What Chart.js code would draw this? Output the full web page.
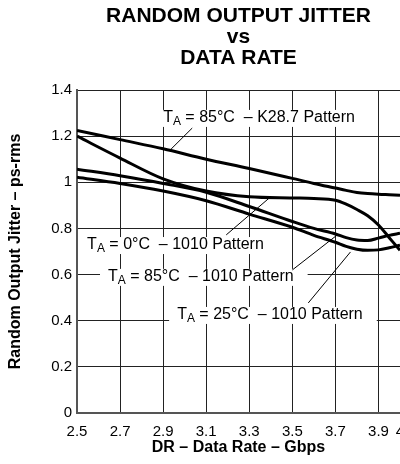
<!DOCTYPE html>
<html><head><meta charset="utf-8">
<script src="https://cdn.jsdelivr.net/npm/chart.js@4.4.1/dist/chart.umd.min.js"></script>
<style>
html,body{margin:0;padding:0;background:#fff;overflow:hidden;}
canvas{display:block;}
</style></head><body>
<canvas id="c" width="400" height="464" style="width:400px;height:464px"></canvas>
<script>
const titleLines = ['RANDOM OUTPUT JITTER', 'vs', 'DATA RATE'];
const xTitle = 'DR – Data Rate – Gbps';
const yTitle = 'Random Output Jitter – ps-rms';
const xTicks = [2.5, 2.7, 2.9, 3.1, 3.3, 3.5, 3.7, 3.9, 4.0];
const yTicks = [0, 0.2, 0.4, 0.6, 0.8, 1.0, 1.2, 1.4];

const dataRate      = [2.5, 2.7, 2.9, 3.1, 3.3, 3.5, 3.6, 3.7, 3.75, 3.8, 3.85, 3.9, 3.95, 4.0];
const jitter85K287  = [1.225, 1.185, 1.145, 1.100, 1.060, 1.017, 0.995, 0.975, 0.965, 0.956, 0.951, 0.948, 0.946, 0.944];
const jitter0C1010  = [1.200, 1.105, 1.015, 0.962, 0.937, 0.932, 0.930, 0.922, 0.905, 0.882, 0.855, 0.815, 0.760, 0.705];
const jitter85C1010 = [1.057, 1.028, 0.995, 0.957, 0.895, 0.830, 0.800, 0.776, 0.760, 0.750, 0.748, 0.758, 0.770, 0.779];
const jitter25C1010 = [1.022, 0.995, 0.962, 0.920, 0.862, 0.805, 0.770, 0.740, 0.722, 0.710, 0.705, 0.707, 0.716, 0.727];
const seriesNames = ['TA = 85°C – K28.7 Pattern', 'TA = 0°C – 1010 Pattern', 'TA = 85°C – 1010 Pattern', 'TA = 25°C – 1010 Pattern'];

const noteTemps    = ['85°C', '0°C', '85°C', '25°C'];
const notePatterns = ['K28.7', '1010', '1010', '1010'];
const noteAnchors  = [[2.90, 1.279], [2.547, 0.728], [2.644, 0.590], [2.965, 0.425]];
const leaderStart  = [[3.035, 1.235], [3.193, 0.772], [3.500, 0.620], [3.574, 0.477]];
const leaderEnd    = [[2.937, 1.144], [3.398, 0.936], [3.709, 0.772], [3.770, 0.698]];

const FAM = '"Liberation Sans", Arial, Helvetica, sans-serif';
const series = [jitter85K287, jitter0C1010, jitter85C1010, jitter25C1010];

const notesPlugin = {
  id: 'notes',
  beforeDatasetsDraw(chart) {
    const {ctx, scales: {x, y}} = chart;
    const mainFont = '16px ' + FAM, subFont = '12px ' + FAM;
    ctx.save();
    noteTemps.forEach((t, i) => {
      const px = x.getPixelForValue(noteAnchors[i][0]);
      const py = y.getPixelForValue(noteAnchors[i][1]);
      ctx.font = mainFont; const wT = ctx.measureText('T').width;
      ctx.font = subFont; const wA = ctx.measureText('A').width;
      const rest = ' = ' + t + '  – ' + notePatterns[i] + ' Pattern';
      ctx.font = mainFont; const wR = ctx.measureText(rest).width;
      const w = wT + wA + wR;
      ctx.fillStyle = '#fff';
      ctx.fillRect(px - 8, py - 8, w + 22, 17);
      ctx.fillStyle = '#000';
      ctx.textBaseline = 'middle';
      ctx.textAlign = 'left';
      ctx.font = mainFont; ctx.fillText('T', px, py);
      ctx.font = subFont; ctx.fillText('A', px + wT, py + 4);
      ctx.font = mainFont; ctx.fillText(rest, px + wT + wA, py);
    });
    ctx.restore();
  },
  afterDatasetsDraw(chart) {
    const {ctx, scales: {x, y}} = chart;
    ctx.save();
    ctx.strokeStyle = '#000';
    ctx.lineWidth = 1;
    leaderStart.forEach((s, i) => {
      ctx.beginPath();
      ctx.moveTo(x.getPixelForValue(s[0]), y.getPixelForValue(s[1]));
      ctx.lineTo(x.getPixelForValue(leaderEnd[i][0]), y.getPixelForValue(leaderEnd[i][1]));
      ctx.stroke();
    });
    ctx.restore();
  }
};

new Chart(document.getElementById('c'), {
  type: 'line',
  data: {
    datasets: series.map((s, i) => ({
      label: seriesNames[i],
      data: dataRate.map((d, j) => ({x: d, y: s[j]})),
      borderColor: '#000',
      borderWidth: 3,
      pointRadius: 0,
      fill: false,
      tension: 0.4,
      cubicInterpolationMode: 'monotone'
    }))
  },
  options: {
    responsive: false,
    maintainAspectRatio: false,
    animation: false,
    devicePixelRatio: 1,
    layout: {padding: {top: 0, left: 4, right: 0, bottom: 5}},
    plugins: {
      legend: {display: false},
      tooltip: {enabled: false},
      title: {
        display: true,
        text: titleLines,
        fullSize: false,
        color: '#000',
        font: {family: FAM, size: 21, weight: 'bold', lineHeight: 1},
        padding: {top: 6, bottom: 21}
      }
    },
    scales: {
      x: {
        type: 'linear',
        min: 2.5, max: 4.0,
        afterBuildTicks: s => { s.ticks = xTicks.map(v => ({value: v})); },
        afterFit: s => { s.height = 46; s.paddingRight = 0; },
        ticks: {
          color: '#000', padding: 10,
          font: {family: FAM, size: 15},
          callback: v => (Math.abs(v - 4) < 1e-9 ? '4' : v.toFixed(1)),
          maxRotation: 0, autoSkip: false
        },
        grid: {color: '#222', lineWidth: 1, drawTicks: false},
        border: {display: true, color: '#555', width: 2},
        title: {
          display: true, text: xTitle, color: '#000',
          font: {family: FAM, size: 16, weight: 'bold'},
          padding: {top: 0, bottom: 2}
        }
      },
      y: {
        min: 0, max: 1.4,
        afterBuildTicks: s => { s.ticks = yTicks.map(v => ({value: v})); },
        afterFit: s => { s.width = 73; },
        ticks: {
          color: '#000', padding: 5,
          font: {family: FAM, size: 15},
          callback: v => String(Number(v.toFixed(1)))
        },
        grid: {color: '#222', lineWidth: 1, drawTicks: false},
        border: {display: true, color: '#555', width: 2},
        title: {
          display: true, text: yTitle, color: '#000',
          font: {family: FAM, size: 16, weight: 'bold'},
          padding: {top: 2, bottom: 0}
        }
      }
    }
  },
  plugins: [notesPlugin]
});
</script>
</body></html>
